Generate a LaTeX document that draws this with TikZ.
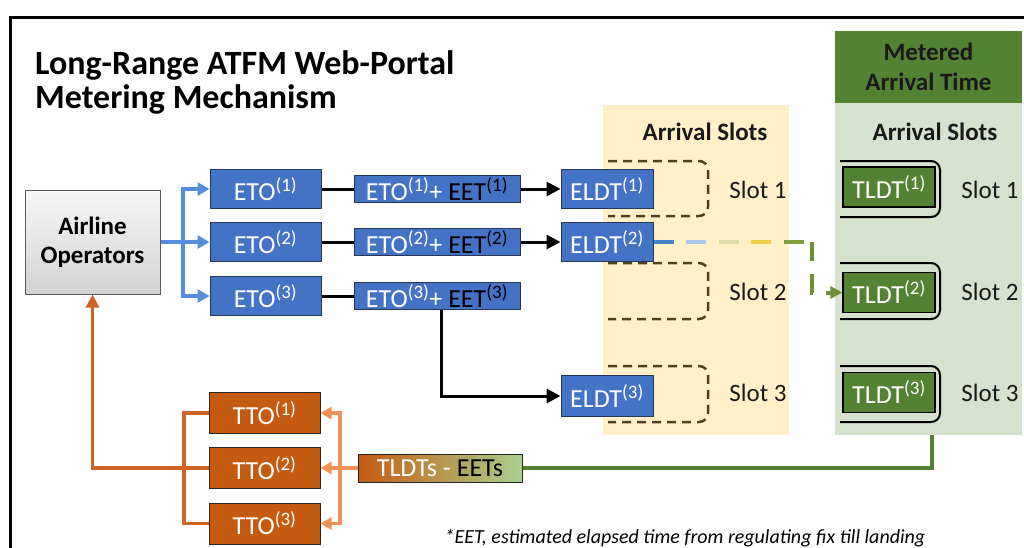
\documentclass[tikz,border=0pt]{standalone}
\usepackage{fontspec}
\setmainfont{Carlito}
\usetikzlibrary{arrows.meta,calc}
\definecolor{boxblue}{RGB}{68,114,196}
\definecolor{blueborder}{RGB}{38,55,90}
\definecolor{linkblue}{RGB}{84,140,222}
\definecolor{ttofill}{RGB}{197,90,17}
\definecolor{ttoline}{RGB}{205,100,35}
\definecolor{ttoarrow}{RGB}{240,145,85}
\definecolor{tgreen}{RGB}{84,130,53}
\definecolor{panelgreen}{RGB}{214,225,206}
\definecolor{panelyellow}{RGB}{255,240,200}
\definecolor{slotdash}{RGB}{80,65,30}
\definecolor{lightgreen}{RGB}{169,209,142}
\definecolor{dA}{RGB}{70,130,200}
\definecolor{dB}{RGB}{165,200,235}
\definecolor{dC}{RGB}{222,218,170}
\definecolor{dD}{RGB}{240,205,70}
\definecolor{dE}{RGB}{125,160,60}
\newcommand{\fs}[1]{\fontsize{#1}{#1}\selectfont}
\newcommand{\sps}[1]{\textsuperscript{\fs{19}(#1)}}
\tikzset{
  bbox/.style={draw=blueborder, line width=1pt, fill=boxblue, text=white, inner sep=0pt, font=\fs{26}},
  gbox/.style={draw=black, line width=1.2pt, fill=tgreen, text=white, inner sep=0pt, font=\fs{26}, minimum width=92pt, minimum height=40pt},
  tbox/.style={draw=black!85, line width=1pt, fill=ttofill, text=white, inner sep=0pt, font=\fs{26}, minimum width=111pt, minimum height=41pt},
  blk/.style={line width=3pt, black},
  blkarrow/.style={blk, -{Triangle[length=14pt,width=14pt]}},
  bl/.style={line width=4pt, linkblue},
  blarrow/.style={bl, -{Triangle[length=12pt,width=13pt]}},
  ol/.style={line width=3.5pt, ttoline},
  olarrow/.style={ol, -{Triangle[length=13pt,width=13pt]}},
  oa/.style={line width=3.5pt, ttoarrow},
  oaarrow/.style={oa, -{Triangle[length=11pt,width=12pt]}},
  gl/.style={line width=3.5pt, tgreen},
  slotd/.style={slotdash, line width=2.5pt, dash pattern=on 9pt off 6pt, rounded corners=9pt},
  tbrack/.style={black, line width=2pt, rounded corners=9pt},
  slotlbl/.style={font=\fs{25}, text=black!90},
  hdr/.style={font=\bfseries\fs{25}, text=black!90},
}
\begin{document}
\begin{tikzpicture}[x=1pt,y=-1pt]
\useasboundingbox (0,0) rectangle (1024,547);
% frame
\draw[line width=3pt] (10,548) -- (10,17) -- (1025,17);
% title
\node[anchor=base west, font=\bfseries\fs{34}, inner sep=0pt] (t1) at (35,74) {Long-Range ATFM Web-Portal};
\node[anchor=base west, font=\bfseries\fs{34}, inner sep=0pt] (t2) at (35,108) {Metering Mechanism};
% panels
\fill[panelyellow] (603,105) rectangle (789,435);
\fill[panelgreen] (835,103) rectangle (1022,435);
\fill[tgreen] (835,31) rectangle (1022,103);
\node[font=\bfseries\fs{25}, text=black!90, align=center, inner sep=0pt] (mat) at (928.5,67) {Metered\\[5pt]Arrival Time};
\node[hdr] (as1) at (705,132) {Arrival Slots};
\node[hdr] (as2) at (935,132) {Arrival Slots};
% slot brackets
\draw[slotd] (608,161) -- (708,161) -- (708,216) -- (608,216);
\draw[slotd] (608,263) -- (708,263) -- (708,319) -- (608,319);
\draw[slotd] (608,366) -- (708,366) -- (708,422) -- (608,422);
\draw[tbrack] (840,161) -- (940,161) -- (940,217) -- (840,217);
\draw[tbrack] (840,263) -- (940,263) -- (940,319) -- (840,319);
\draw[tbrack] (840,366) -- (940,366) -- (940,422) -- (840,422);
\node[slotlbl] (s1) at (758,190) {Slot 1};
\node[slotlbl] (s2) at (758,292) {Slot 2};
\node[slotlbl] (s3) at (758,393) {Slot 3};
\node[slotlbl] (r1) at (990,190) {Slot 1};
\node[slotlbl] (r2) at (990,292) {Slot 2};
\node[slotlbl] (r3) at (990,393) {Slot 3};
% airline operators
\node[draw=gray!70!black, line width=1pt, top color=gray!6, bottom color=gray!35, minimum width=135pt, minimum height=104pt, align=center, font=\bfseries\fs{25}, inner sep=0pt] (air) at (92.5,242) {Airline\\[4pt]Operators};
% ETO
\node[bbox, minimum width=111pt, minimum height=39pt] (eto1) at (265.5,189) {ETO\sps{1}};
\node[bbox, minimum width=111pt, minimum height=39pt] (eto2) at (265.5,242) {ETO\sps{2}};
\node[bbox, minimum width=111pt, minimum height=39pt] (eto3) at (265.5,296) {ETO\sps{3}};
% ETO+EET
\node[bbox, minimum width=166pt, minimum height=27pt] (ee1) at (437,189) {ETO\sps{1}+ \textcolor{black}{EET\sps{1}}};
\node[bbox, minimum width=166pt, minimum height=27pt] (ee2) at (437,242) {ETO\sps{2}+ \textcolor{black}{EET\sps{2}}};
\node[bbox, minimum width=166pt, minimum height=27pt] (ee3) at (437,296) {ETO\sps{3}+ \textcolor{black}{EET\sps{3}}};
% ELDT
\node[bbox, minimum width=92pt, minimum height=39pt] (eldt1) at (607,189) {ELDT\sps{1}};
\node[bbox, minimum width=92pt, minimum height=39pt] (eldt2) at (607,242) {ELDT\sps{2}};
\node[bbox, minimum width=92pt, minimum height=41pt] (eldt3) at (607,396) {ELDT\sps{3}};
% TLDT
\node[gbox] (tl1) at (889,187) {TLDT\sps{1}};
\node[gbox] (tl2) at (889,292.5) {TLDT\sps{2}};
\node[gbox] (tl3) at (889,392.5) {TLDT\sps{3}};
% TTO
\node[tbox] (tto1) at (264.5,413) {TTO\sps{1}};
\node[tbox] (tto2) at (264.5,468) {TTO\sps{2}};
\node[tbox] (tto3) at (264.5,523.5) {TTO\sps{3}};
% TLDTs - EETs
\node[draw=black!85, line width=1pt, left color=ttofill, right color=lightgreen, minimum width=164pt, minimum height=28pt, inner sep=0pt, text=white, font=\fs{26}] (tle) at (440,468) {TLDTs - \textcolor{black}{EETs}};
% footnote
\node[anchor=base, font=\itshape\fs{20}, inner sep=0pt] (fn) at (685,543) {*EET, estimated elapsed time from regulating fix till landing};
% blue connectors
\coordinate (bj) at (183,242);
\draw[bl] (air.east) -- (bj);
\draw[blarrow] (bj) |- (eto1.west);
\draw[blarrow] (bj) -- (eto2.west);
\draw[blarrow] (bj) |- (eto3.west);
% black connectors
\draw[blk] (eto1.east) -- (ee1.west);
\draw[blk] (eto2.east) -- (ee2.west);
\draw[blk] (eto3.east) -- (ee3.west);
\draw[blkarrow] (ee1.east) -- (eldt1.west);
\draw[blkarrow] (ee2.east) -- (eldt2.west);
\draw[blkarrow] ($(ee3.south)+(4,0)$) |- (eldt3.west);
% gradient dashed connector ELDT2 -> TLDT2
\coordinate (gc) at (812,242);
\foreach \col [count=\i from 0] in {dA,dB,dC,dD,dE}
  \draw[\col, line width=4pt] ($(eldt2.east)+(\i*32.5,0)$) -- ++(20,0);
\draw[dE!90!black, line width=4pt, dash pattern=on 19pt off 13pt, -{Triangle[length=12pt,width=12pt]}] (gc) -- (gc |- tl2.west) -- (tl2.west);
% orange connectors
\coordinate (oj) at (184,468);
\draw[ol] (tto1.west) -| (oj) |- (tto3.west);
\draw[olarrow] (tto2.west) -| (air.south);
\coordinate (oa) at (340,468);
\draw[oa] (tle.west) -- (oa);
\draw[oaarrow] (oa) |- (tto1.east);
\draw[oaarrow] (oa) -- (tto2.east);
\draw[oaarrow] (oa) |- (tto3.east);
% green connector
\coordinate (gp) at (932,435);
\draw[gl] (tle.east) -| (gp);
\end{tikzpicture}
\end{document}
